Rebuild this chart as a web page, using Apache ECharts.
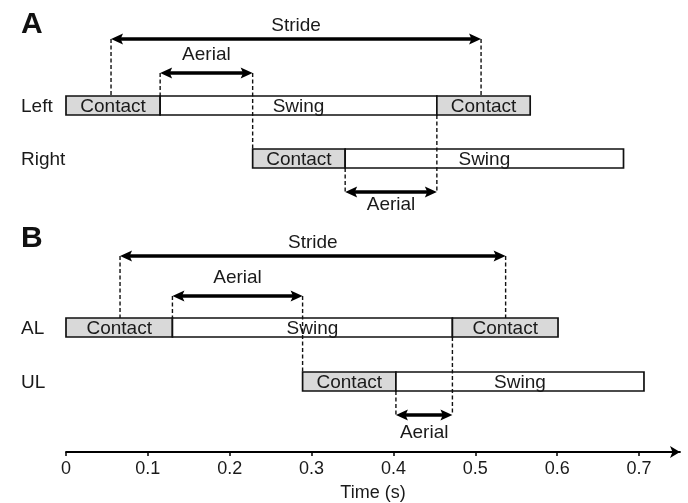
<!DOCTYPE html>
<html>
<head>
<meta charset="utf-8">
<script src="https://cdn.jsdelivr.net/npm/echarts@6/dist/echarts.min.js"></script>
<style>
html, body { margin: 0; background: #fff; }
#chart { width: 688px; height: 503px; }
</style>
</head>
<body>
<div id="chart"></div>
<script>
// gait phases, boundaries in seconds
var panelNames = ['A', 'B'];
var rowNames = [['Left', 'Right'], ['AL', 'UL']];
var phaseNames = ['Contact', 'Swing', 'Contact'];
var leftTimes = [0, 0.115, 0.453, 0.567];
var rightTimes = [0.228, 0.341, 0.681];
var alTimes = [0, 0.130, 0.472, 0.601];
var ulTimes = [0.289, 0.403, 0.706];
var strideA = [0.055, 0.507];
var strideB = [0.066, 0.537];
var aerialA = [[0.115, 0.228], [0.341, 0.453]];
var aerialB = [[0.130, 0.289], [0.403, 0.472]];
var tickValues = [0, 0.1, 0.2, 0.3, 0.4, 0.5, 0.6, 0.7];
var tickLabels = ['0', '0.1', '0.2', '0.3', '0.4', '0.5', '0.6', '0.7'];

// layout (pixels from top of grid)
var FONT = '"Liberation Sans", Arial, sans-serif';
var INK = '#1a1a1a';
var barH = 19;
var layout = [
    {letter: 25, strideY: 39, strideText: 26, aerialY: 73, aerialText: 55, rows: [105.5, 158.5], aerialBotY: 192, aerialBotText: 205},
    {letter: 239, strideY: 256, strideText: 243, aerialY: 296, aerialText: 278, rows: [327.5, 381.5], aerialBotY: 415, aerialBotText: 433}
];

var rowTimes = [[leftTimes, rightTimes], [alTimes, ulTimes]];
var barData = [];
var labelData = [];
rowTimes.forEach(function (rows, p) {
    rows.forEach(function (t, r) {
        labelData.push([0, p, r]);
        for (var i = 0; i < t.length - 1; i++) {
            barData.push([t[i], t[i + 1], p, r, i]);
        }
    });
});

// arrows: [start, end, panel, kind] kind 0 = stride, 1 = aerial top, 2 = aerial bottom
var arrowData = [
    [strideA[0], strideA[1], 0, 0],
    [aerialA[0][0], aerialA[0][1], 0, 1],
    [aerialA[1][0], aerialA[1][1], 0, 2],
    [strideB[0], strideB[1], 1, 0],
    [aerialB[0][0], aerialB[0][1], 1, 1],
    [aerialB[1][0], aerialB[1][1], 1, 2]
];

var renderBar = function (params, api) {
    var p = api.value(2), r = api.value(3), n = api.value(4);
    var yc = layout[p].rows[r];
    var a = api.coord([api.value(0), yc]);
    var b = api.coord([api.value(1), yc]);
    var name = phaseNames[n];
    return {
        type: 'group',
        children: [
            {
                type: 'rect',
                shape: {x: a[0], y: a[1] - barH / 2, width: b[0] - a[0], height: barH},
                style: {fill: name === 'Contact' ? '#d9d9d9' : '#fff', stroke: '#111', lineWidth: 1.7}
            },
            {
                type: 'text',
                x: (a[0] + b[0]) / 2, y: a[1] + 1,
                style: {text: name, fill: INK, font: '19px ' + FONT, align: 'center', verticalAlign: 'middle'}
            }
        ]
    };
};

var renderLabel = function (params, api) {
    var p = api.value(1), r = api.value(2);
    var yc = api.coord([0, layout[p].rows[r]])[1];
    return {
        type: 'text',
        x: 21, y: yc + 1,
        style: {text: rowNames[p][r], fill: INK, font: '19px ' + FONT, align: 'left', verticalAlign: 'middle'}
    };
};

var head = function (x, y, dir) {
    var L = 12, W = 5.5;
    return {
        type: 'polygon',
        shape: {points: [[x, y], [x - dir * L, y - W], [x - dir * L * 0.8, y], [x - dir * L, y + W]]},
        style: {fill: '#000'}
    };
};

var dash = function (x, y1, y2) {
    return {
        type: 'line',
        shape: {x1: x, y1: y1, x2: x, y2: y2},
        style: {stroke: '#111', lineWidth: 1.4, lineDash: [4, 2.5]}
    };
};

var renderArrow = function (params, api) {
    var p = api.value(2), kind = api.value(3);
    var lay = layout[p];
    var y = kind === 0 ? lay.strideY : (kind === 1 ? lay.aerialY : lay.aerialBotY);
    var a = api.coord([api.value(0), y]);
    var b = api.coord([api.value(1), y]);
    var top1 = lay.rows[0] - barH / 2, top2 = lay.rows[1] - barH / 2;
    var bot1 = lay.rows[0] + barH / 2, bot2 = lay.rows[1] + barH / 2;
    var kids = [];
    if (kind === 0) {
        kids.push(dash(a[0], y, top1), dash(b[0], y, top1));
    } else if (kind === 1) {
        kids.push(dash(a[0], y, top1), dash(b[0], y, top2));
    } else {
        kids.push(dash(a[0], bot2, y), dash(b[0], bot1, y));
    }
    kids.push({
        type: 'line',
        shape: {x1: a[0] + 9, y1: y, x2: b[0] - 9, y2: y},
        style: {stroke: '#000', lineWidth: 3.5}
    });
    kids.push(head(a[0], y, -1), head(b[0], y, 1));
    var txt = kind === 0 ? 'Stride' : 'Aerial';
    var ty = kind === 0 ? lay.strideText : (kind === 1 ? lay.aerialText : lay.aerialBotText);
    kids.push({
        type: 'text',
        x: (a[0] + b[0]) / 2, y: ty,
        style: {text: txt, fill: INK, font: '19px ' + FONT, align: 'center', verticalAlign: 'middle'}
    });
    return {type: 'group', children: kids};
};

var myChart = echarts.init(document.getElementById('chart'));
var option = {
    animation: false,
    grid: {left: 66, right: 8, top: 0, bottom: 51, outerBoundsMode: 'none', containLabel: false},
    graphic: panelNames.map(function (name, p) {
        return {
            type: 'text', left: 21, top: layout[p].letter - 15,
            style: {text: name, fill: '#111', font: 'bold 30px ' + FONT}
        };
    }),
    xAxis: {
        type: 'value', min: 0, max: 0.75, position: 'bottom',
        name: 'Time (s)', nameLocation: 'middle', nameGap: 32,
        nameTextStyle: {color: INK, fontSize: 18, fontFamily: FONT},
        splitLine: {show: false},
        axisLine: {onZero: false, lineStyle: {color: '#000', width: 1.8}, symbol: ['none', 'arrow'], symbolSize: [9, 10]},
        axisTick: {show: true, length: 4, lineStyle: {color: '#000', width: 1.5}, customValues: tickValues},
        axisLabel: {
            color: INK, fontSize: 18, fontFamily: FONT, margin: 8,
            customValues: tickValues,
            formatter: function (v) { return tickLabels[tickValues.indexOf(v)]; }
        }
    },
    yAxis: {type: 'value', min: 0, max: 452, inverse: true, show: false},
    series: [
        {type: 'custom', renderItem: renderBar, data: barData, z: 2, encode: {x: [0, 1], y: -1}},
        {type: 'custom', renderItem: renderLabel, data: labelData, z: 2, encode: {x: 0, y: -1}},
        {type: 'custom', renderItem: renderArrow, data: arrowData, z: 3, encode: {x: [0, 1], y: -1}}
    ]
};
myChart.setOption(option);
</script>
</body>
</html>
